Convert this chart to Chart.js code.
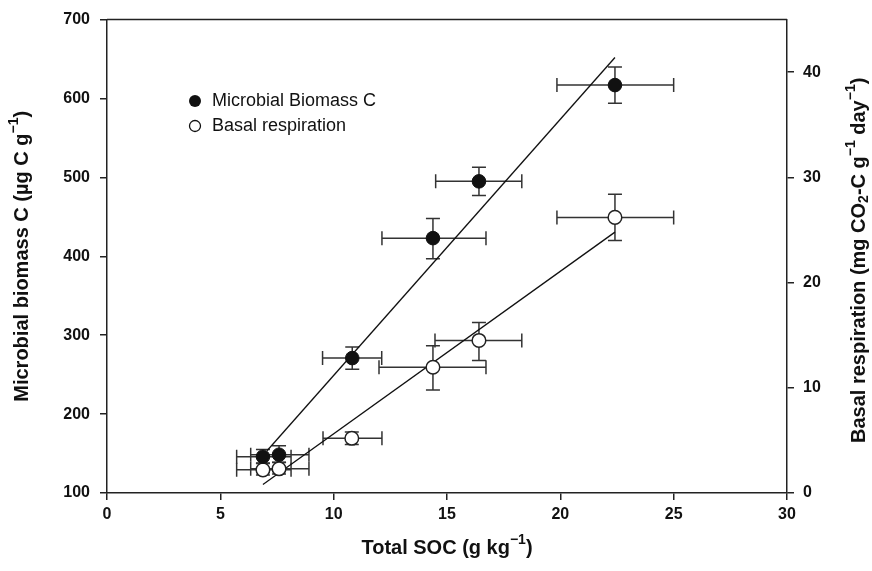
<!DOCTYPE html>
<html><head><meta charset="utf-8">
<script src="https://cdn.jsdelivr.net/npm/chart.js@4.4.0/dist/chart.umd.min.js"></script>
<style>html,body{margin:0;padding:0;background:#fff;}#wrap{width:872px;height:571px;}</style>
</head><body><div id="wrap"><canvas id="c" width="872" height="571"></canvas></div>
<script>
// Microbial biomass C (left axis)
const socMBC = [6.88, 7.59, 10.82, 14.38, 16.41, 22.41];
const mbc = [146, 148.5, 271, 423, 495, 617];
const mbcErrLow = [138, 139, 257, 397, 477, 594];
const mbcErrHigh = [155, 160, 285, 448, 513, 640];
const socMBCErrLow = [5.72, 6.34, 9.51, 12.13, 14.5, 19.85];
const socMBCErrHigh = [8.12, 8.91, 12.12, 16.72, 18.3, 25.0];
// Basal respiration (right axis)
const socBR = [6.88, 7.59, 10.8, 14.38, 16.41, 22.41];
const br = [2.2, 2.3, 5.2, 11.95, 14.5, 26.2];
const brErrLow = [1.7, 1.8, 4.6, 9.8, 12.6, 24.0];
const brErrHigh = [2.8, 2.9, 5.8, 14.0, 16.2, 28.4];
const socBRErrLow = [5.72, 6.34, 9.53, 12.0, 14.47, 19.85];
const socBRErrHigh = [8.12, 8.91, 12.13, 16.72, 18.3, 25.0];
// Regression lines (end points)
const mbcFitX = [7.06, 22.41];
const mbcFitY = [153.5, 652];
const brFitX = [6.88, 22.41];
const brFitY = [0.8, 24.8];
// Ticks
const xTicks = [0, 5, 10, 15, 20, 25, 30];
const yTicks = [100, 200, 300, 400, 500, 600, 700];
const y1Ticks = [0, 10, 20, 30, 40];
// Labels
const legendLabels = ['Microbial Biomass C', 'Basal respiration'];

const FONT = "'Liberation Sans', Arial, Helvetica, sans-serif";
const INK = '#111';
const BAR = '#333';

function pts(xs, ys){ return xs.map((v,i)=>({x:v, y:ys[i]})); }

function drawRich(ctx, segs, size){
  const fontFor = s => (s.sup||s.sub) ? `bold ${Math.round(size*0.68)}px ${FONT}` : `bold ${size}px ${FONT}`;
  let total = 0;
  segs.forEach(s=>{ ctx.font = fontFor(s); s.w = ctx.measureText(s.t).width; total += s.w; });
  let x = -total/2;
  ctx.textBaseline = 'middle'; ctx.textAlign = 'left';
  segs.forEach(s=>{
    ctx.font = fontFor(s);
    let dy = 0;
    if (s.sup) dy = -size*0.38;
    if (s.sub) dy = size*0.28;
    ctx.fillText(s.t, x, dy);
    x += s.w;
  });
}

const errorBars = {
  id: 'errorBars',
  beforeDatasetsDraw(chart){
    const {ctx, scales} = chart;
    const xs = scales.x;
    ctx.save();
    ctx.strokeStyle = BAR; ctx.lineWidth = 1.5;
    const cap = 7;
    const one = (ys, X, Y, xl, xh, yl, yh) => {
      for (let i=0;i<X.length;i++){
        const px = xs.getPixelForValue(X[i]), py = ys.getPixelForValue(Y[i]);
        const x1 = xs.getPixelForValue(xl[i]), x2 = xs.getPixelForValue(xh[i]);
        const y1 = ys.getPixelForValue(yl[i]), y2 = ys.getPixelForValue(yh[i]);
        ctx.beginPath();
        ctx.moveTo(x1, py); ctx.lineTo(x2, py);
        ctx.moveTo(x1, py-cap); ctx.lineTo(x1, py+cap);
        ctx.moveTo(x2, py-cap); ctx.lineTo(x2, py+cap);
        ctx.moveTo(px, y1); ctx.lineTo(px, y2);
        ctx.moveTo(px-cap, y1); ctx.lineTo(px+cap, y1);
        ctx.moveTo(px-cap, y2); ctx.lineTo(px+cap, y2);
        ctx.stroke();
      }
    };
    one(scales.y, socMBC, mbc, socMBCErrLow, socMBCErrHigh, mbcErrLow, mbcErrHigh);
    one(scales.y1, socBR, br, socBRErrLow, socBRErrHigh, brErrLow, brErrHigh);
    ctx.restore();
  }
};

const decor = {
  id: 'decor',
  afterDraw(chart){
    const {ctx, chartArea:a} = chart;
    ctx.save();
    ctx.strokeStyle = '#222'; ctx.lineWidth = 1.5;
    ctx.beginPath(); ctx.moveTo(a.left, a.top); ctx.lineTo(a.right, a.top); ctx.stroke();
    ctx.fillStyle = INK;
    // left title
    ctx.save(); ctx.translate(22, (a.top+a.bottom)/2); ctx.rotate(-Math.PI/2);
    drawRich(ctx, [{t:'Microbial biomass C (\u00b5g C g'},{t:'\u22121',sup:true},{t:')'}], 20);
    ctx.restore();
    // right title
    ctx.save(); ctx.translate(859, (a.top+a.bottom)/2 + 4); ctx.rotate(-Math.PI/2);
    drawRich(ctx, [{t:'Basal respiration (mg CO'},{t:'2',sub:true},{t:'-C g'},{t:'\u22121',sup:true},{t:' day'},{t:'\u22121',sup:true},{t:')'}], 20);
    ctx.restore();
    // bottom title
    ctx.save(); ctx.translate((a.left+a.right)/2, 548);
    drawRich(ctx, [{t:'Total SOC (g kg'},{t:'\u22121',sup:true},{t:')'}], 20);
    ctx.restore();
    // legend
    ctx.font = `18px ${FONT}`; ctx.textBaseline = 'middle'; ctx.textAlign = 'left';
    ctx.beginPath(); ctx.arc(195, 101, 6, 0, Math.PI*2); ctx.fillStyle = INK; ctx.fill();
    ctx.fillText(legendLabels[0], 212, 101);
    ctx.beginPath(); ctx.arc(195, 126, 5.5, 0, Math.PI*2); ctx.fillStyle = '#fff'; ctx.fill();
    ctx.strokeStyle = INK; ctx.lineWidth = 1.3; ctx.stroke();
    ctx.fillStyle = INK; ctx.fillText(legendLabels[1], 212, 126);
    ctx.restore();
  }
};

const tickFont = {family: FONT, size: 16, weight: 'bold'};
const gridCfg = {drawOnChartArea:false, drawTicks:true, tickLength:7, color:'#222', lineWidth:1.5};
const borderCfg = {display:true, color:'#222', width:1.5};

new Chart(document.getElementById('c'), {
  type: 'scatter',
  data: {
    datasets: [
      {label:legendLabels[0], data:pts(socMBC, mbc), yAxisID:'y', order:0,
       pointRadius:6.8, pointBackgroundColor:INK, pointBorderColor:INK, pointBorderWidth:1, showLine:false},
      {label:legendLabels[1], data:pts(socBR, br), yAxisID:'y1', order:0,
       pointRadius:6.8, pointBackgroundColor:'#fff', pointBorderColor:'#222', pointBorderWidth:1.5, showLine:false},
      {type:'line', data:pts(mbcFitX, mbcFitY), yAxisID:'y', order:1, pointRadius:0,
       borderColor:INK, borderWidth:1.3, fill:false},
      {type:'line', data:pts(brFitX, brFitY), yAxisID:'y1', order:1, pointRadius:0,
       borderColor:INK, borderWidth:1.3, fill:false}
    ]
  },
  options: {
    responsive:false, animation:false, devicePixelRatio:1,
    layout:{padding:{top:16, left:0, right:0, bottom:0}},
    plugins:{legend:{display:false}, tooltip:{enabled:false}},
    scales:{
      x:{type:'linear', position:'bottom', min:0, max:30,
         afterBuildTicks:s=>{s.ticks = xTicks.map(v=>({value:v}));},
         afterFit:s=>{s.height = 78;},
         ticks:{color:INK, font:tickFont, padding:5, maxRotation:0},
         grid:gridCfg, border:borderCfg},
      y:{type:'linear', position:'left', min:100, max:700,
         afterBuildTicks:s=>{s.ticks = yTicks.map(v=>({value:v}));},
         afterFit:s=>{s.width = 107;},
         ticks:{color:INK, font:tickFont, padding:10},
         grid:gridCfg, border:borderCfg},
      y1:{type:'linear', position:'right', min:0, max:45,
         afterBuildTicks:s=>{s.ticks = y1Ticks.map(v=>({value:v}));},
         afterFit:s=>{s.width = 85;},
         ticks:{color:INK, font:tickFont, padding:9},
         grid:gridCfg, border:borderCfg}
    }
  },
  plugins:[errorBars, decor]
});
</script></body></html>
